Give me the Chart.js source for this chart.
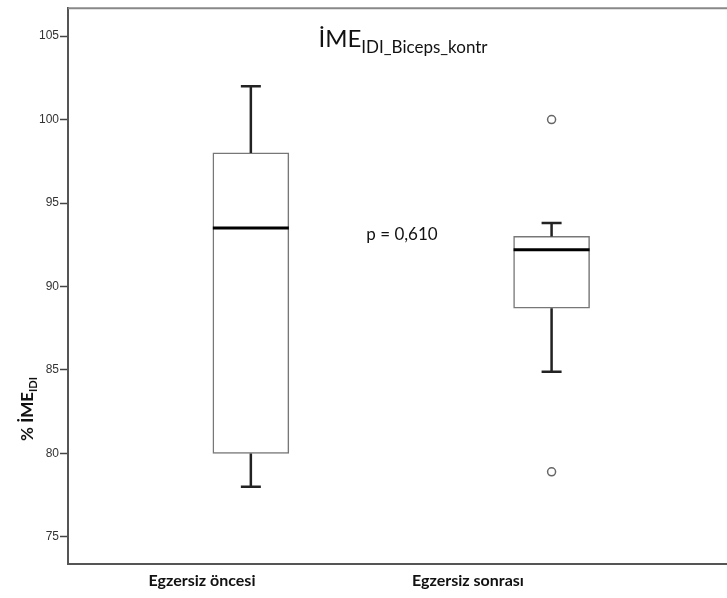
<!DOCTYPE html>
<html>
<head>
  <title>İME IDI Biceps kontr</title>
  <script src="https://cdn.jsdelivr.net/npm/chart.js"></script>
  <style>
    body {
      margin: 0;
      background-color: white;
    }
    .chart-box {
      width: 727px;
      height: 598px;
    }
  </style>
</head>
<body>
  <div class="chart-box">
    <canvas id="boxChart"></canvas>
  </div>

  <script>
    // data
    const groups = ['Egzersiz öncesi', 'Egzersiz sonrası'];
    const groupX = [1, 2];
    const whiskerLow = [78.0, 84.9];
    const q1 = [80.0, 88.7];
    const median = [93.5, 92.2];
    const q3 = [98.0, 93.0];
    const whiskerHigh = [102.0, 93.8];
    const outliers = [[], [100.0, 78.9]];
    const yTicks = [75, 80, 85, 90, 95, 100, 105];

    const titleMain = 'İME';
    const titleSub = 'IDI_Biceps_kontr';
    const yTitleMain = '% İME';
    const yTitleSub = 'IDI';
    const pText = 'p = 0,610';

    const font = 'Lato, "Open Sans", sans-serif';

    const boxData = groupX.map((x, i) => ({ x: x, y: [q1[i], q3[i]] }));
    const outlierData = [];
    outliers.forEach((list, i) => {
      list.forEach(v => outlierData.push({ x: groupX[i], y: v }));
    });

    // whiskers, medians, frame and the texts
    const boxExtras = {
      id: 'boxExtras',
      afterDatasetsDraw(chart) {
        const ctx = chart.ctx;
        const xs = chart.scales.x;
        const ys = chart.scales.y;
        const area = chart.chartArea;
        const bars = chart.getDatasetMeta(0).data;

        ctx.save();
        groupX.forEach((gx, i) => {
          const cx = xs.getPixelForValue(gx);
          const half = bars[i].width / 2;
          const cap = 10;

          ctx.strokeStyle = '#222';
          ctx.lineWidth = 2.5;
          ctx.beginPath();
          ctx.moveTo(cx, ys.getPixelForValue(q3[i]));
          ctx.lineTo(cx, ys.getPixelForValue(whiskerHigh[i]));
          ctx.moveTo(cx - cap, ys.getPixelForValue(whiskerHigh[i]));
          ctx.lineTo(cx + cap, ys.getPixelForValue(whiskerHigh[i]));
          ctx.moveTo(cx, ys.getPixelForValue(q1[i]));
          ctx.lineTo(cx, ys.getPixelForValue(whiskerLow[i]));
          ctx.moveTo(cx - cap, ys.getPixelForValue(whiskerLow[i]));
          ctx.lineTo(cx + cap, ys.getPixelForValue(whiskerLow[i]));
          ctx.stroke();

          ctx.strokeStyle = '#000';
          ctx.lineWidth = 3;
          ctx.beginPath();
          ctx.moveTo(cx - half, ys.getPixelForValue(median[i]));
          ctx.lineTo(cx + half, ys.getPixelForValue(median[i]));
          ctx.stroke();
        });

        // top frame line and bottom axis line, both to the right edge
        ctx.lineWidth = 2;
        ctx.strokeStyle = '#888';
        ctx.beginPath();
        ctx.moveTo(area.left, area.top);
        ctx.lineTo(chart.width, area.top);
        ctx.stroke();
        ctx.strokeStyle = '#555';
        ctx.beginPath();
        ctx.moveTo(area.left - 1, area.bottom);
        ctx.lineTo(chart.width, area.bottom);
        ctx.stroke();

        ctx.fillStyle = '#111';
        ctx.textBaseline = 'alphabetic';

        // title with subscript
        ctx.font = '24px ' + font;
        const wMain = ctx.measureText(titleMain).width;
        ctx.font = '17px ' + font;
        const wSub = ctx.measureText(titleSub).width;
        let tx = 403 - (wMain + wSub) / 2;
        ctx.textAlign = 'left';
        ctx.font = '24px ' + font;
        ctx.fillText(titleMain, tx, 47);
        ctx.font = '17px ' + font;
        ctx.fillText(titleSub, tx + wMain, 53);

        // p value
        ctx.font = '17px ' + font;
        ctx.textAlign = 'center';
        ctx.fillText(pText, 402, 240);

        // category labels
        ctx.font = 'bold 16px ' + font;
        ctx.fillText(groups[0], 202, 586);
        ctx.fillText(groups[1], 468, 586);

        // y axis title, rotated
        ctx.translate(33, 409);
        ctx.rotate(-Math.PI / 2);
        ctx.font = 'bold 17px ' + font;
        const yMain = ctx.measureText(yTitleMain).width;
        ctx.font = 'bold 11px ' + font;
        const ySub = ctx.measureText(yTitleSub).width;
        ctx.textAlign = 'left';
        ctx.font = 'bold 17px ' + font;
        ctx.fillText(yTitleMain, -(yMain + ySub) / 2, 0);
        ctx.font = 'bold 11px ' + font;
        ctx.fillText(yTitleSub, -(yMain + ySub) / 2 + yMain, 4);
        ctx.restore();
      }
    };

    const ctx = document.getElementById('boxChart').getContext('2d');
    const chart = new Chart(ctx, {
      type: 'bar',
      data: {
        datasets: [{
          type: 'bar',
          data: boxData,
          backgroundColor: 'white',
          borderColor: '#777',
          borderWidth: 1.5,
          borderSkipped: false,
          barThickness: 76
        }, {
          type: 'scatter',
          data: outlierData,
          pointRadius: 4,
          pointBackgroundColor: 'white',
          pointBorderColor: '#666',
          pointBorderWidth: 1.5
        }]
      },
      options: {
        responsive: true,
        maintainAspectRatio: false,
        animation: false,
        layout: { padding: { top: 6, right: 0, bottom: 0, left: 0 } },
        plugins: {
          legend: { display: false },
          tooltip: { enabled: false }
        },
        scales: {
          x: {
            type: 'linear',
            offset: false,
            min: 0.392,
            max: 2.565,
            grid: { display: false },
            ticks: { display: false },
            border: { display: false },
            afterFit: function(axis) {
              axis.height = 34;
              axis.paddingLeft = 0;
              axis.paddingRight = 0;
            }
          },
          y: {
            min: 73.38,
            max: 106.67,
            afterBuildTicks: function(axis) {
              axis.ticks = yTicks.map(v => ({ value: v }));
            },
            afterFit: function(axis) { axis.width = 68; },
            grid: {
              drawOnChartArea: false,
              drawTicks: true,
              tickLength: 8,
              tickColor: '#444',
              tickWidth: 1.5
            },
            border: { display: true, color: '#555', width: 2 },
            ticks: {
              padding: 1,
              color: '#333',
              font: { family: '"Liberation Sans", Arial, sans-serif', size: 12 }
            }
          }
        }
      },
      plugins: [boxExtras]
    });
  </script>
</body>
</html>
